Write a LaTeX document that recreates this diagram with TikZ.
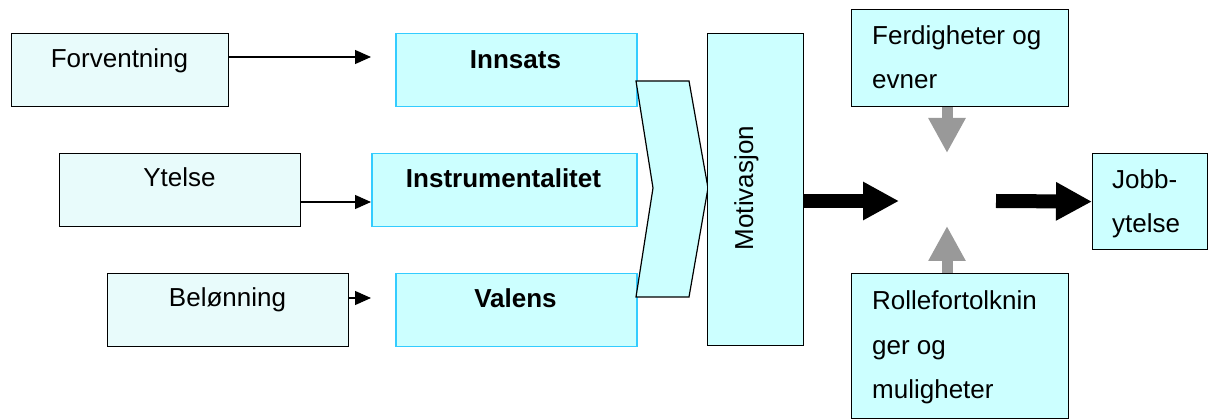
\documentclass[tikz,border=0pt]{standalone}
\usepackage{fontspec}
\setmainfont{Liberation Sans}
\usetikzlibrary{arrows.meta}

\definecolor{boxcyan}{RGB}{204,255,255}
\definecolor{palecyan}{RGB}{232,251,251}
\definecolor{edgecyan}{RGB}{51,204,255}
\definecolor{arrowgray}{RGB}{153,153,153}

\begin{document}
\begin{tikzpicture}[x=1pt, y=-1pt,
  font=\fontsize{26}{44.5}\selectfont,
  srcbox/.style={draw=black, line width=1.2pt, fill=palecyan, anchor=north west, inner sep=0pt},
  factorbox/.style={draw=edgecyan, line width=1.5pt, fill=boxcyan, anchor=north west, inner sep=0pt},
  plainbox/.style={draw=black, line width=1.2pt, fill=boxcyan, anchor=north west, inner sep=0pt},
  label text/.style={inner sep=0pt, anchor=base},
  side text/.style={inner sep=0pt, anchor=base west, align=left},
  thinarrow/.style={draw=black, line width=1.2pt, -{Triangle[length=16pt, width=14pt]}},
  bigarrow/.style={draw=black, line width=14pt, -{Triangle[length=36pt, width=36pt]}},
  grayarrow/.style={draw=arrowgray, line width=11pt, -{Triangle[length=35pt, width=35pt]}}]

\useasboundingbox (0,0) rectangle (1208,419);

% source variables
\node[srcbox, minimum width=217pt, minimum height=73pt] (forv) at (11,33) {};
\node[label text] (forv-t) at (119.5,68) {Forventning};
\node[srcbox, minimum width=241pt, minimum height=73pt] (ytel) at (59,153) {};
\node[label text] (ytel-t) at (179.5,187) {Ytelse};
\node[srcbox, minimum width=241pt, minimum height=73pt] (belo) at (107,273) {};
\node[label text] (belo-t) at (227.5,307) {Belønning};

% expectancy factors
\node[factorbox, minimum width=241pt, minimum height=73pt] (inns) at (395,33) {};
\node[label text] (inns-t) at (515.5,69) {\bfseries Innsats};
\node[factorbox, minimum width=265pt, minimum height=73pt] (inst) at (371,153) {};
\node[label text] (inst-t) at (503.5,188) {\bfseries Instrumentalitet};
\node[factorbox, minimum width=241pt, minimum height=73pt] (vale) at (395,273) {};
\node[label text] (vale-t) at (515.5,308) {\bfseries Valens};

% connectors from sources to factors
\coordinate (fa) at (371,57);
\coordinate (ya) at (371,202);
\coordinate (ba) at (371,298);
\draw[thinarrow] (forv.east |- fa) -- (fa);
\draw[thinarrow] (ytel.east |- ya) -- (ya);
\draw[thinarrow] (belo.east |- ba) -- (ba);

% chevron merging the factors
\draw[line width=1.2pt, fill=boxcyan, line join=miter]
  (636,81) -- (689,81) -- (708,188) -- (689,297) -- (636,297) -- (653,188) -- cycle;

% motivation
\node[plainbox, minimum width=96pt, minimum height=312pt] (moti) at (707,33) {};
\node[label text, rotate=90] (moti-t) at (753,188) {Motivasjon};

% moderating factors (multi-line texts are anchored at their last baseline)
\node[plainbox, minimum width=217pt, minimum height=97pt] (ferd) at (851,9) {};
\node[side text] (ferd-t) at (872,89) {Ferdigheter og\\evner};
\node[plainbox, minimum width=217pt, minimum height=145pt] (roll) at (851,273) {};
\node[side text] (roll-t) at (872,399) {Rollefortolknin\\ger og\\muligheter};

% job performance
\node[plainbox, minimum width=115pt, minimum height=96pt] (jobb) at (1092,153) {};
\node[side text] (jobb-t) at (1112,233) {Jobb-\\ytelse};

% main flow arrows
\coordinate (m1) at (899,201);
\coordinate (m2) at (996,201);
\draw[bigarrow] (moti.east |- m1) -- (m1);
\draw[bigarrow] (m2) -- (jobb.west);

% grey influence arrows
\coordinate (g1) at (947,153);
\coordinate (g2) at (947,226);
\draw[grayarrow] (ferd.south -| g1) -- (g1);
\draw[grayarrow] (roll.north -| g2) -- (g2);

\end{tikzpicture}
\end{document}
